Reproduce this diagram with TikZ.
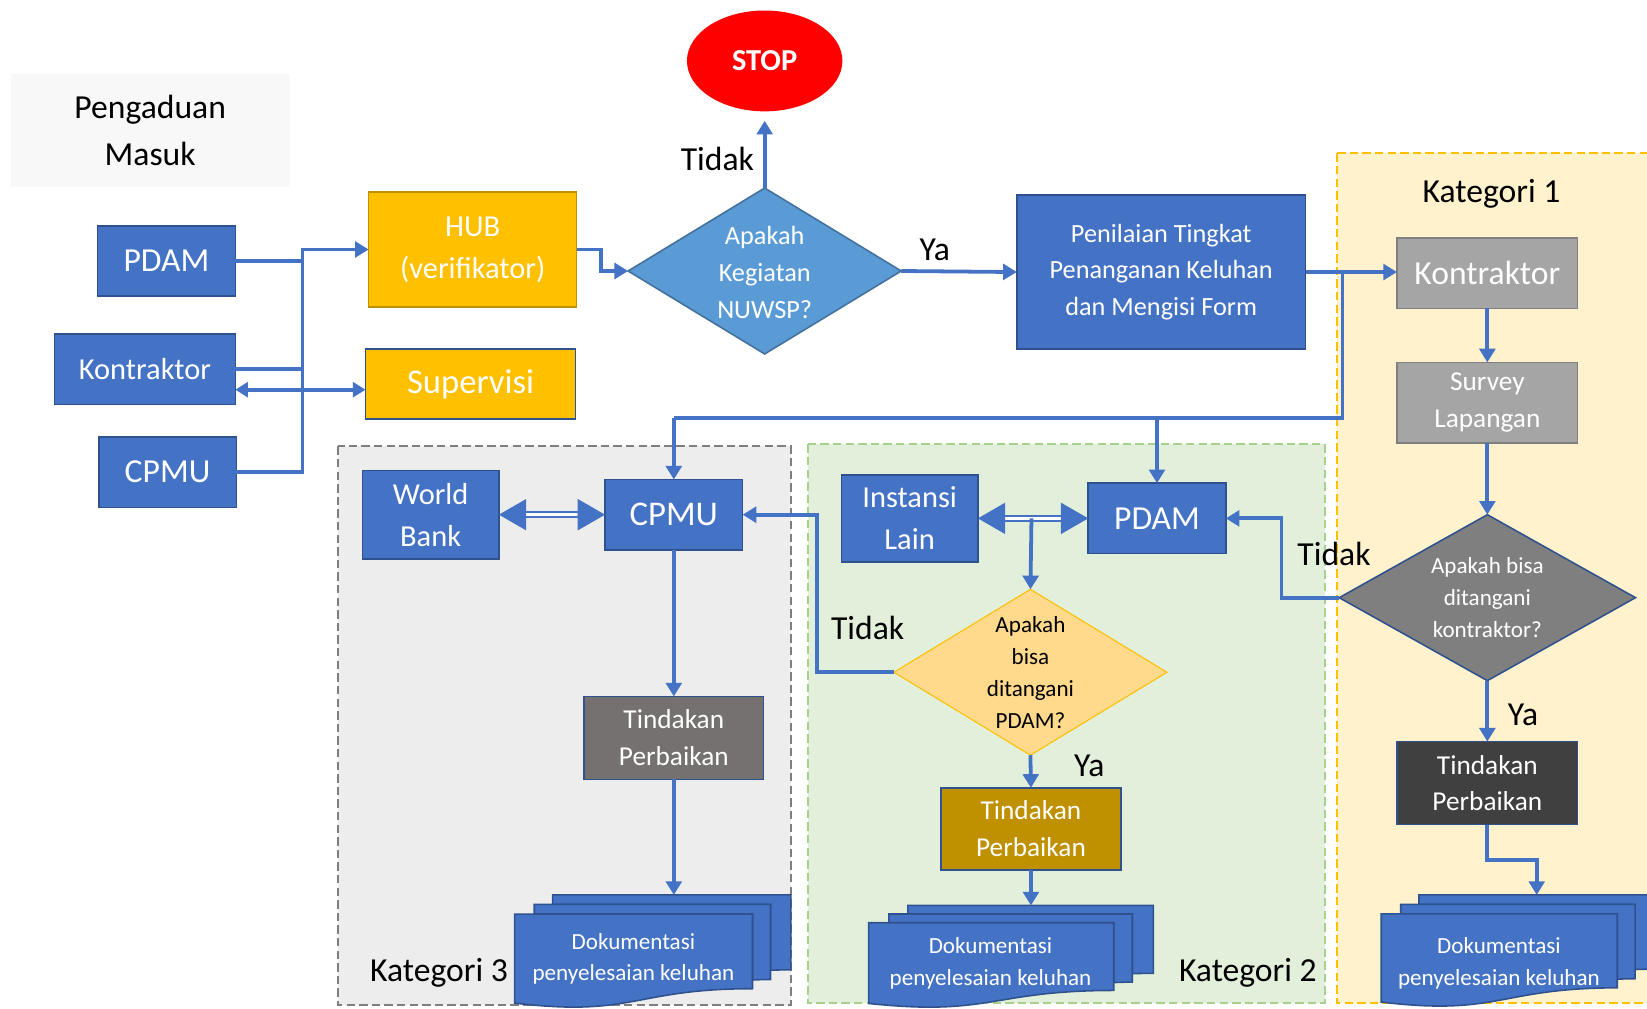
\documentclass[tikz,border=0pt]{standalone}
\usepackage{fontspec}
\setmainfont{Carlito}
\usetikzlibrary{shapes.geometric,arrows.meta}
\definecolor{cblue}{HTML}{4472C4}
\definecolor{cdark}{HTML}{2F528F}
\definecolor{cgold}{HTML}{FFC000}
\definecolor{cgoldb}{HTML}{BF9000}
\definecolor{cdia}{HTML}{5B9BD5}
\definecolor{cdiab}{HTML}{41719C}
\definecolor{cgrayl}{HTML}{A5A5A5}
\definecolor{cgraym}{HTML}{7F7F7F}
\definecolor{cgrayd}{HTML}{404040}
\definecolor{cgrayt}{HTML}{767171}
\definecolor{cpeach}{HTML}{FFD98C}
\definecolor{kone}{HTML}{FFF2CC}
\definecolor{ktwo}{HTML}{E2EFDA}
\definecolor{ktwob}{HTML}{A9D18E}
\definecolor{kthree}{HTML}{EDEDED}
\definecolor{cpeng}{HTML}{F8F8F8}
\newcommand{\mdoc}[5]{%
\begin{scope}[shift={(#2,#3)}, xscale=#4, yscale=#5]
\filldraw[docst] (0.13759,0.08403) -- (0.13759,0) -- (1,0) -- (1,0.66630) .. controls (0.96296,0.66630) and (0.92593,0.66977) .. (0.92593,0.66977) -- (0.92593,0.08403) -- cycle;
\filldraw[docst] (0.07093,0.17014) -- (0.07093,0.08403) -- (0.92593,0.08403) -- (0.92593,0.75241) .. controls (0.89343,0.75241) and (0.86088,0.75704) .. (0.86088,0.75704) -- (0.86088,0.17014) -- cycle;
\filldraw[docst] (0,0.17014) -- (0.86088,0.17014) -- (0.86088,0.83435) .. controls (0.43046,0.83435) and (0.43046,1.08991) .. (0,0.96213) -- cycle;
\end{scope}
\node[inner sep=0pt, outer sep=0pt, minimum width=#4pt, minimum height=#5pt] (#1) at (#2+#4/2, #3+#5/2) {};
}
\begin{document}
\begin{tikzpicture}[x=1pt,y=-1pt,
  box/.style={rectangle, inner sep=0pt, outer sep=0pt, line width=1.5pt, align=center, text=white},
  bluebox/.style={box, draw=cdark, fill=cblue},
  dia/.style={diamond, inner sep=0pt, outer sep=0pt, line width=1.5pt},
  ln/.style={draw=cblue, line width=3.6pt},
  arr/.style={ln, -{Triangle[length=13pt,width=15pt]}},
  arrb/.style={ln, {Triangle[length=12pt,width=14pt]}-{Triangle[length=12pt,width=14pt]}},
  dbl/.style={draw=cblue, line width=2pt, double=white, double distance=3pt},
  bighead/.style={fill=cblue},
  region/.style={dashed, dash pattern=on 8pt off 4pt, line width=2pt},
  lab/.style={text=black, font=\fontsize{32}{38}\selectfont, inner sep=0pt},
  docst/.style={fill=cblue, draw=cdark, line width=1.5pt},
  doctext/.style={text=white, align=center, font=\fontsize{22}{30}\selectfont, inner sep=0pt},
  f32/.style={font=\fontsize{32}{38}\selectfont},
  f29/.style={font=\fontsize{29}{40}\selectfont},
  f26/.style={font=\fontsize{26}{35}\selectfont},
  f25/.style={font=\fontsize{25}{35}\selectfont},
  f22/.style={font=\fontsize{22}{30.5}\selectfont}
]
\useasboundingbox (0,0) rectangle (1568,960.6);
\clip (0,0) rectangle (1568,960.6);

% regions
\draw[region, draw=cgold, fill=kone] (1273,146) rectangle (1590,955);
\draw[region, draw=ktwob, fill=ktwo] (769,423) rectangle (1261,955);
\draw[region, draw=cgraym, fill=kthree] (322,425) rectangle (753,957);
\node[lab] (kat1) at (1420,185) {Kategori 1};
\node[lab] (kat2) at (1188,926) {Kategori 2};
\node[lab] (kat3) at (418,926) {Kategori 3};

% left column
\node[box, fill=cpeng, text=black, minimum width=266pt, minimum height=108pt, font=\fontsize{32}{45}\selectfont] (peng) at (143,124) {Pengaduan\\Masuk};
\node[bluebox, f32, minimum width=131pt, minimum height=67pt] (pdamA) at (158.5,248.5) {PDAM};
\node[bluebox, f29, minimum width=172pt, minimum height=67pt] (kontA) at (138,351.5) {Kontraktor};
\node[bluebox, f32, minimum width=131pt, minimum height=67pt] (cpmuA) at (159.5,449.5) {CPMU};
\node[box, f29, draw=cgoldb, fill=cgold, minimum width=198pt, minimum height=109pt] (hub) at (450,237.5) {HUB\\(verifikator)};
\node[box, font=\fontsize{33}{38}\selectfont, draw=cdark, fill=cgold, minimum width=200pt, minimum height=67pt] (superv) at (448,365.5) {Supervisi};

% decision 1 and stop
\node[dia, draw=cdiab, fill=cdia, minimum width=260pt, minimum height=158pt] (dec1) at (728,258) {};
\node[box, f25] (dec1t) at ([yshift=-1.5pt]dec1) {Apakah\\Kegiatan\\NUWSP?};
\node[ellipse, inner sep=0pt, outer sep=0pt, fill=red, minimum width=148pt, minimum height=96pt, text=white, font=\fontsize{29}{34}\selectfont\bfseries] (stop) at (728,58) {STOP};
\node[bluebox, f25, minimum width=275pt, minimum height=147pt] (penil) at (1105.5,259) {Penilaian Tingkat\\Penanganan Keluhan\\dan Mengisi Form};

% kategori 1
\node[box, f32, draw=cgraym, fill=cgrayl, minimum width=172pt, minimum height=67pt] (kontK) at (1416,260) {Kontraktor};
\node[box, f26, draw=cgraym, fill=cgrayl, minimum width=172pt, minimum height=77pt] (survey) at (1416,383.5) {Survey\\Lapangan};
\node[dia, draw=cdark, fill=cgraym, minimum width=282pt, minimum height=158pt] (dec3) at (1416,569) {};
\node[box, f22] (dec3t) at (dec3) {Apakah bisa\\ditangani\\kontraktor?};
\node[box, f26, draw=cdark, fill=cgrayd, minimum width=172pt, minimum height=79pt] (tindK1) at (1416,745.5) {Tindakan\\Perbaikan};
\mdoc{docK1}{1315}{852}{261}{106}
\node[doctext] (docK1t) at (1427,917) {Dokumentasi\\penyelesaian keluhan};

% kategori 2
\node[bluebox, f29, minimum width=130pt, minimum height=83pt] (inst) at (866,493.5) {Instansi\\Lain};
\node[bluebox, f32, minimum width=131pt, minimum height=67pt] (pdamB) at (1101.5,493.5) {PDAM};
\node[dia, draw=cgold, line width=1pt, fill=cpeach, minimum width=260pt, minimum height=158pt] (dec2) at (981,640) {};
\node[box, f22, text=black] (dec2t) at (dec2) {Apakah\\bisa\\ditangani\\PDAM?};
\node[box, f26, draw=cdark, fill=cgoldb, minimum width=171pt, minimum height=78pt] (tindK2) at (981.5,789) {Tindakan\\Perbaikan};
\mdoc{docK2}{827}{862}{271}{97}
\node[doctext] (docK2t) at (943,917) {Dokumentasi\\penyelesaian keluhan};

% kategori 3
\node[bluebox, f29, minimum width=130pt, minimum height=84pt] (wb) at (410,490) {World\\Bank};
\node[bluebox, font=\fontsize{33}{38}\selectfont, minimum width=131pt, minimum height=67pt] (cpmuB) at (641.5,490) {CPMU};
\node[box, f26, draw=cdark, fill=cgrayt, minimum width=171pt, minimum height=79pt] (tindK3) at (641.5,702.5) {Tindakan\\Perbaikan};
\mdoc{docK3}{490}{852}{263}{107}
\node[doctext] (docK3t) at (603,913) {Dokumentasi\\penyelesaian keluhan};

% junction coordinates
\coordinate (bus1) at (288,237.5);
\coordinate (jP) at (1278,259);
\coordinate (jPd) at (1278,398);
\coordinate (jC) at (641.5,398);
\coordinate (jB) at (1101.5,398);
\coordinate (j3) at (1220,569);
\coordinate (j2) at (778,640);
\coordinate (jK2) at (982,493.5);
\coordinate (k1a) at (1463,852);

% connectors left
\draw[ln] (pdamA.east) -- (pdamA.east -| bus1);
\draw[ln] (kontA.east) -- (kontA.east -| bus1);
\draw[arr] (cpmuA.east) -| (bus1) -- (hub.west);
\draw[arrb] ([yshift=-19.5pt]kontA.east) -- ([yshift=-19.5pt]kontA.east -| superv.west);
\draw[arr] (hub.east) -- ++(23,0) |- (dec1.west);
\draw[arr] (dec1.north) -- ([yshift=-9pt]stop.south);
\node[lab] (tidak1) at (683,151) {Tidak};
\draw[arr] (dec1.east) -- (penil.west);
\node[lab] (ya1) at (890,238) {Ya};
\draw[arr] (penil.east) -- (penil.east -| kontK.west);
\draw[ln] (jP) -- (jPd) -- (jC);
\draw[arr] (jC) -- (cpmuB.north);
\draw[arr] (jB) -- (pdamB.north);

% kategori 1 connectors
\draw[arr] (kontK.south) -- (survey.north);
\draw[arr] (survey.south) -- (dec3.north);
\draw[arr] (dec3.west) -- (j3) |- (pdamB.east);
\node[lab] (tidak3) at (1270,527) {Tidak};
\draw[arr] (dec3.south) -- (tindK1.north);
\node[lab] (ya3) at (1450,681) {Ya};
\draw[arr] (tindK1.south) -- ++(0,34) -| (k1a);

% kategori 2 connectors
\draw[dbl] ([xshift=24pt]inst.east) -- ([xshift=-24pt]pdamB.west);
\fill[bighead] (inst.east) -- ++(26,-15) -- ++(0,30) -- cycle;
\fill[bighead] (pdamB.west) -- ++(-26,-15) -- ++(0,30) -- cycle;
\draw[arr] (jK2) -- (dec2.north);
\draw[arr] (dec2.west) -- (j2) |- (cpmuB.east);
\node[lab] (tidak2) at (826,598) {Tidak};
\draw[arr] (dec2.south) -- (tindK2.north);
\node[lab] (ya2) at (1037,729) {Ya};
\draw[arr] (tindK2.south) -- (tindK2.south |- docK2.north);

% kategori 3 connectors
\draw[dbl] ([xshift=24pt]wb.east) -- ([xshift=-24pt]cpmuB.west);
\fill[bighead] (wb.east) -- ++(26,-15) -- ++(0,30) -- cycle;
\fill[bighead] (cpmuB.west) -- ++(-26,-15) -- ++(0,30) -- cycle;
\draw[arr] (cpmuB.south) -- (tindK3.north);
\draw[arr] (tindK3.south) -- (tindK3.south |- docK3.north);
\end{tikzpicture}
\end{document}
